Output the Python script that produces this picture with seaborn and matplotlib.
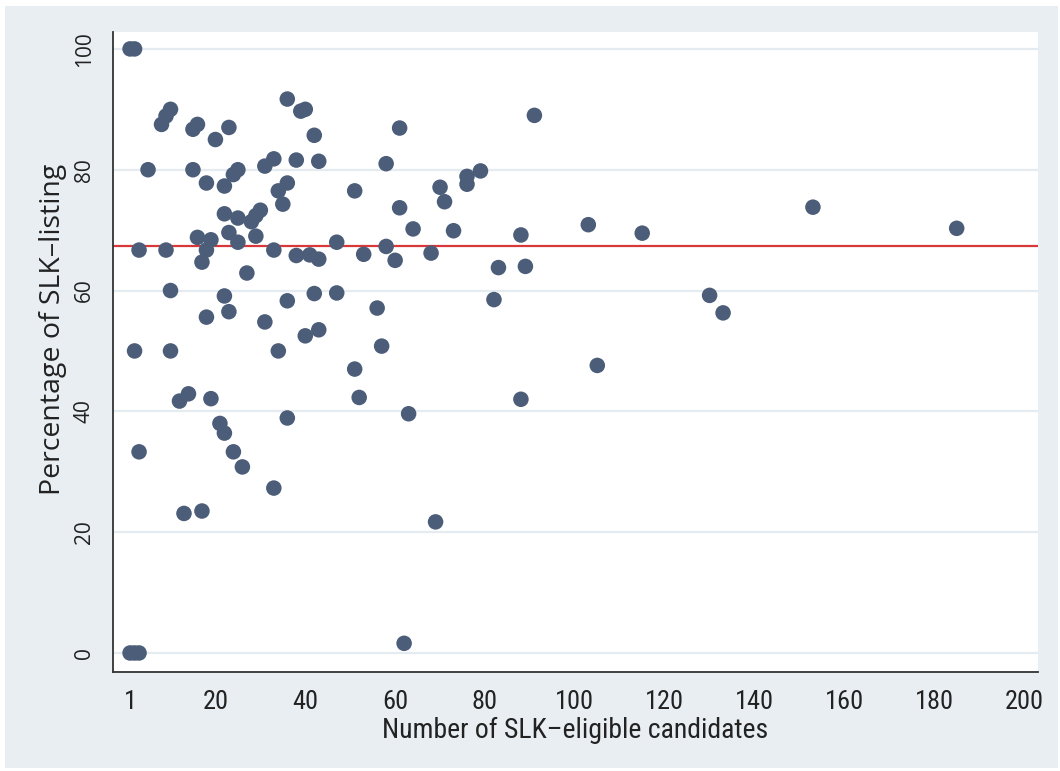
import numpy as np
import pandas as pd
import matplotlib
matplotlib.use("Agg")
import matplotlib.pyplot as plt
from matplotlib import font_manager
from matplotlib.patches import Rectangle
import seaborn as sns

# data
n_eligible = [1, 2, 1, 2, 3, 2, 3, 3, 5, 8, 9, 10, 9, 10, 10, 12, 14, 19, 13, 17,
              21, 22, 24, 26, 33, 36, 18, 23, 31, 34, 40, 43, 51, 52, 15, 16, 20, 23,
              36, 39, 40, 42, 15, 18, 22, 24, 25, 31, 33, 38, 43, 51, 34, 36, 35, 22,
              25, 28, 29, 30, 23, 29, 25, 16, 19, 18, 17, 33, 38, 41, 43, 47, 53, 27,
              22, 42, 47, 36, 61, 91, 58, 76, 76, 79, 70, 71, 61, 64, 73, 88, 103, 58,
              60, 68, 83, 89, 82, 56, 57, 105, 63, 88, 69, 62, 115, 153, 185, 130, 133]
pct_listing = [100, 100, 0, 0, 0, 50, 66.7, 33.3, 80, 87.5, 88.9, 90, 66.7, 60, 50,
               41.7, 42.9, 42.1, 23.1, 23.5, 38.0, 36.4, 33.3, 30.8, 27.3, 38.9, 55.6,
               56.5, 54.8, 50, 52.5, 53.5, 47.0, 42.3, 86.7, 87.5, 85.0, 87.0, 91.7,
               89.7, 90.0, 85.7, 80.0, 77.8, 77.3, 79.2, 80.0, 80.6, 81.8, 81.6, 81.4,
               76.5, 76.5, 77.8, 74.3, 72.7, 72.0, 71.4, 72.4, 73.3, 69.6, 69.0, 68.0,
               68.8, 68.4, 66.7, 64.7, 66.7, 65.8, 65.9, 65.2, 68.0, 66.0, 62.9, 59.1,
               59.5, 59.6, 58.3, 86.9, 89.0, 81.0, 78.9, 77.6, 79.8, 77.1, 74.7, 73.7,
               70.2, 69.9, 69.2, 70.9, 67.3, 65.0, 66.2, 63.8, 64.0, 58.5, 57.1, 50.8,
               47.6, 39.6, 42.0, 21.7, 1.6, 69.5, 73.8, 70.3, 59.2, 56.3]
mean_pct = 67.4
x_ticks = [1, 20, 40, 60, 80, 100, 120, 140, 160, 180, 200]
y_ticks = [0, 20, 40, 60, 80, 100]

df = pd.DataFrame({"n": n_eligible, "pct": pct_listing})

sns.set_style("white")
plt.rcParams['font.family'] = ['Open Sans', 'DejaVu Sans']

# the x axis text in the reference is condensed, take the narrowest font we have
installed = {f.name for f in font_manager.fontManager.ttflist}
narrow = [f for f in ['Liberation Sans Narrow', 'Roboto Condensed', 'DejaVu Sans Condensed',
                      'Roboto', 'Liberation Sans'] if f in installed][:1] + ['DejaVu Sans']

fig = plt.figure(figsize=(10.6, 7.71), dpi=100, facecolor="white")
fig.patches.append(Rectangle((5 / 1060, 3 / 771), 1053 / 1060, 762 / 771,
                             transform=fig.transFigure, facecolor="#e8eef2",
                             edgecolor="none", zorder=-10))
ax = fig.add_axes([113 / 1060, 1 - 672 / 771, 925 / 1060, 640 / 771])
ax.set_facecolor("white")

for yt in y_ticks:
    ax.axhline(yt, color="#e4ecf2", lw=1.6, zorder=0)
ax.axhline(mean_pct, color="#d9383a", lw=1.6, zorder=1)

sns.scatterplot(data=df, x="n", y="pct", ax=ax, s=125, color="#4b5d79",
                edgecolor="none", linewidth=0, zorder=3, legend=False)

ax.set_xlim(-2.8, 203.1)
ax.set_ylim(-3.15, 102.8)
ax.set_xticks(x_ticks)
ax.set_yticks(y_ticks)

ax.set_xticklabels([str(t) for t in x_ticks], family=narrow, fontsize=19,
                   fontstretch="condensed")
ax.set_yticklabels([str(t) for t in y_ticks], rotation=90, va="center", fontsize=15)
ax.set_xlabel("Number of SLK\u2013eligible candidates", family=narrow, fontsize=20,
              fontstretch="condensed", color="#222222", labelpad=2)
ax.set_ylabel("Percentage of SLK\u2013listing", fontsize=20.5, color="#222222",
              labelpad=5, y=0.535)

for side in ["top", "right"]:
    ax.spines[side].set_visible(False)
for side in ["left", "bottom"]:
    ax.spines[side].set_color("#333333")
    ax.spines[side].set_linewidth(1.3)
ax.tick_params(axis="both", direction="out", length=9, width=1.3, color="#333333",
               labelcolor="#222222", pad=4)

fig.savefig("out.png", dpi=100, facecolor="white")
